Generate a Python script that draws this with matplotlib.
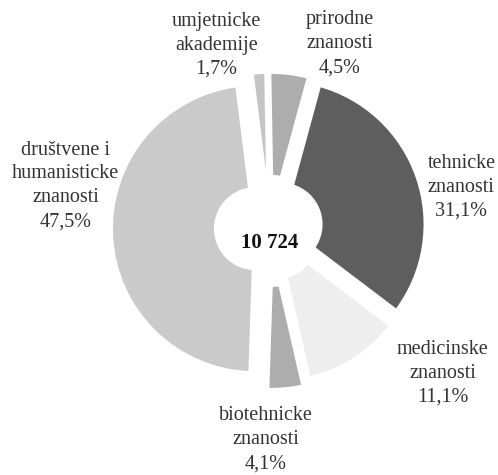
import matplotlib.pyplot as plt

# udjeli po podrucjima (pocevsi od vrha, u smjeru kazaljke na satu)
categories = ['prirodne\nznanosti', 'tehnicke\nznanosti', 'medicinske\nznanosti',
              'biotehnicke\nznanosti', 'društvene i\nhumanisticke\nznanosti',
              'umjetnicke\nakademije']
shares = [4.5, 31.1, 11.1, 4.1, 47.5, 1.7]
share_labels = ['4,5%', '31,1%', '11,1%', '4,1%', '47,5%', '1,7%']
total = '10 724'

colours = ['#adadad', '#5e5e5e', '#eeeeee', '#adadad', '#cacaca', '#c4c4c4']
explode = [0.08, 0.08, 0.08, 0.12, 0.1, 0.08]
label_pos = [(0.48, 1.27), (1.32, 0.28), (1.19, -1.0),
             (-0.03, -1.46), (-1.41, 0.29), (-0.37, 1.26)]

plt.rcParams['font.family'] = ['Liberation Serif', 'DejaVu Serif']

fig = plt.figure(figsize=(4.98, 4.75), dpi=100)
ax = fig.add_axes([0, 0, 1, 1])

wedges, _ = ax.pie(shares, colors=colours, explode=explode, startangle=91,
                   counterclock=False, radius=1.0,
                   wedgeprops=dict(width=0.73, edgecolor='white', linewidth=3.5))

for (x, y), cat, pct in zip(label_pos, categories, share_labels):
    ax.text(x, y, cat + '\n' + pct, ha='center', va='center', fontsize=14.5,
            color='#333333', linespacing=1.35)

ax.text(0, -0.1, total, ha='center', va='center', fontsize=15,
        fontweight='bold', color='#111111')

ax.set_aspect('auto')
ax.set_xlim(-270 / 145, (498 - 270) / 145)
ax.set_ylim(-247 / 145, (475 - 247) / 145)
ax.axis('off')

fig.savefig('out.png', dpi=100, facecolor='white')
